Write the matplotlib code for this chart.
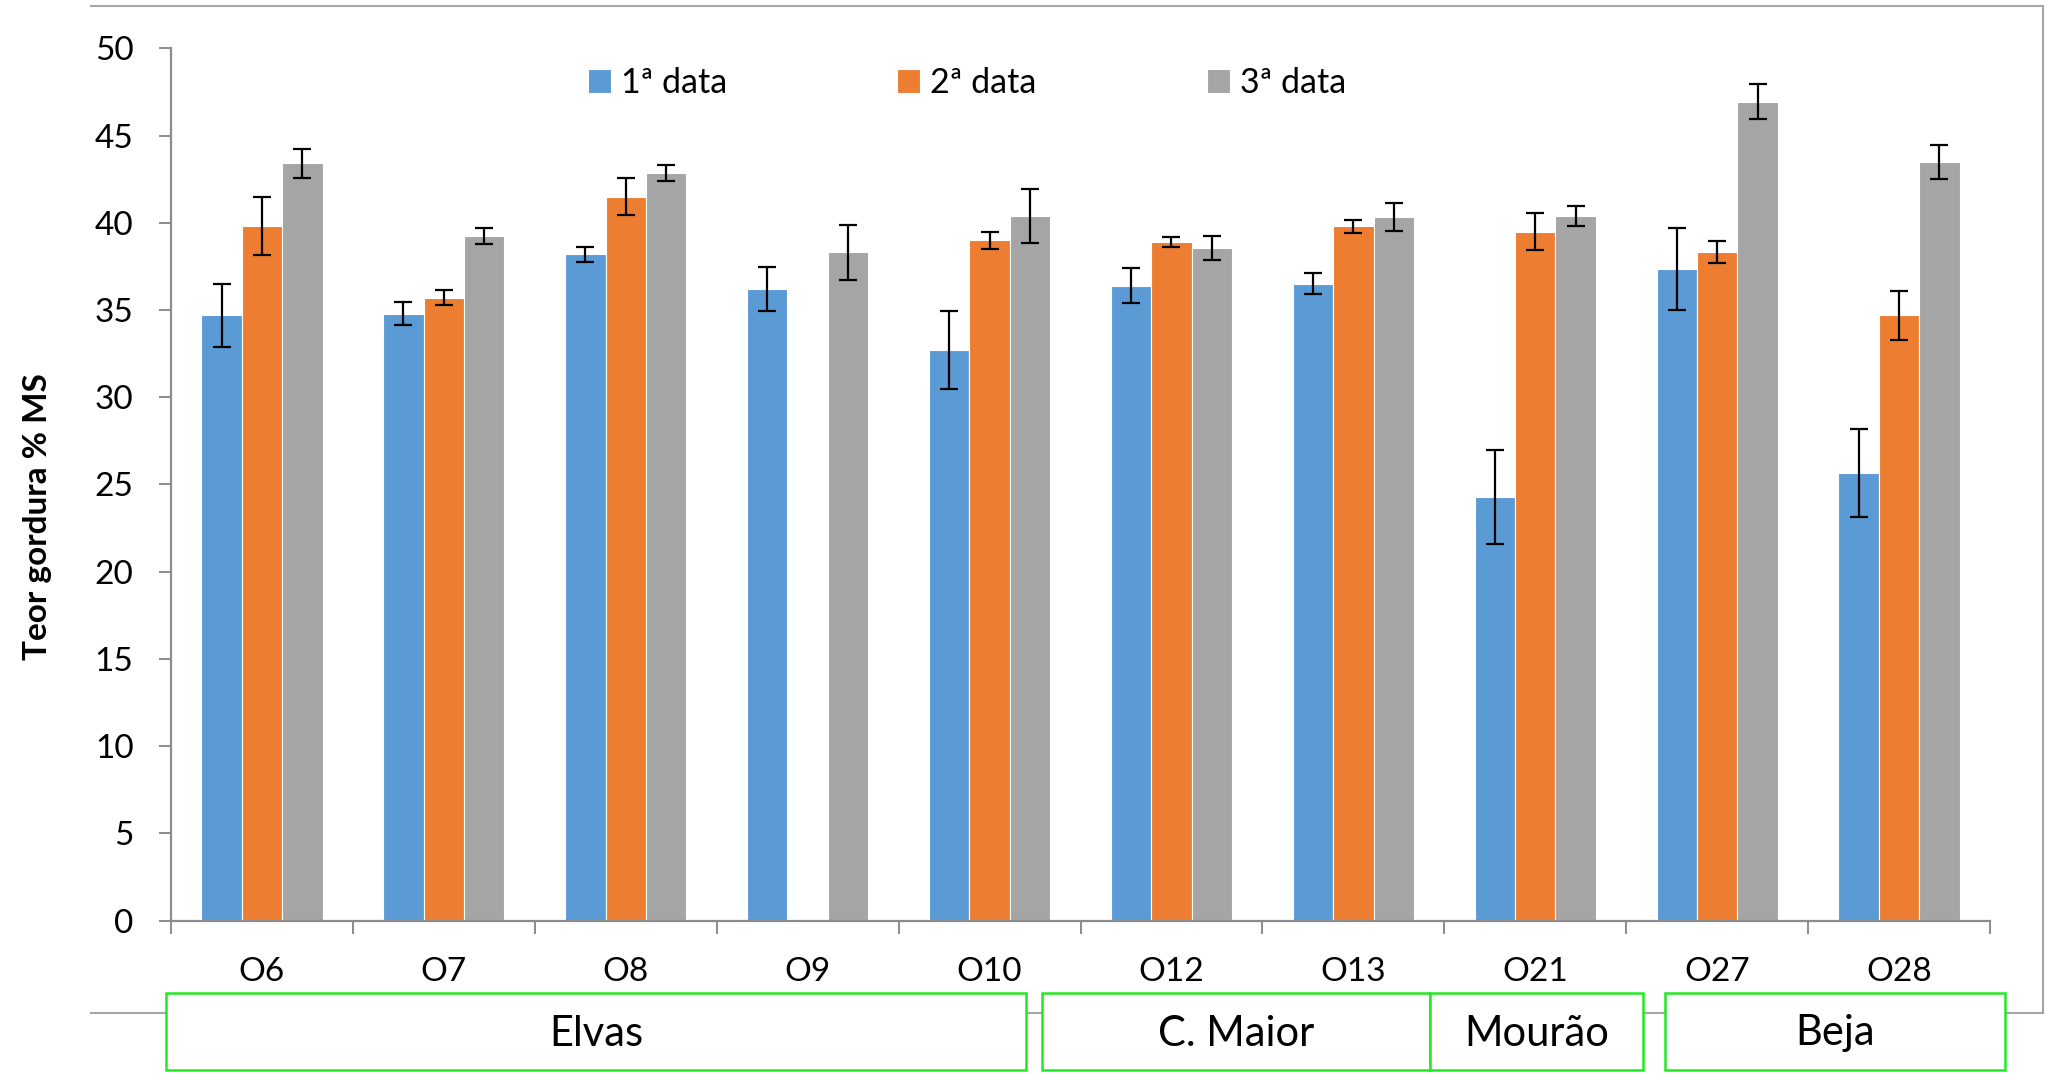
import numpy as np
import matplotlib
matplotlib.use("Agg")
import matplotlib.pyplot as plt
from matplotlib.patches import Rectangle
from matplotlib.lines import Line2D
import matplotlib.transforms as mtransforms

# ---------------- data ----------------
categories = ["O6", "O7", "O8", "O9", "O10", "O12", "O13", "O21", "O27", "O28"]
series_names = ["1ª data", "2ª data", "3ª data"]
data1 = [34.7, 34.8, 38.2, 36.2, 32.7, 36.4, 36.5, 24.3, 37.35, 25.65]
data2 = [39.8, 35.7, 41.5, np.nan, 39.0, 38.9, 39.8, 39.5, 38.3, 34.7]
data3 = [43.4, 39.25, 42.85, 38.3, 40.4, 38.55, 40.35, 40.4, 46.95, 43.5]
err1 = [1.8, 0.68, 0.42, 1.27, 2.25, 1.0, 0.6, 2.69, 2.36, 2.53]
err2 = [1.66, 0.43, 1.05, np.nan, 0.48, 0.3, 0.37, 1.07, 0.63, 1.4]
err3 = [0.84, 0.47, 0.47, 1.6, 1.56, 0.67, 0.8, 0.58, 1.03, 0.97]
sites = ["Elvas", "C. Maior", "Mourão", "Beja"]
y_ticks = [0, 5, 10, 15, 20, 25, 30, 35, 40, 45, 50]
y_label = "Teor gordura % MS"

# ---------------- style ----------------
W, H = 2049, 1081
DPI = 100
plt.rcParams["font.family"] = ["Lato", "DejaVu Sans"]
colors = ["#5B9BD5", "#ED7D31", "#A5A5A5"]
axis_col = "#8C8C8C"
frame_col = "#A6A6A6"
green = "#22E822"

fig = plt.figure(figsize=(W / DPI, H / DPI), dpi=DPI)

def fx(px):
    return px / W

def fy(py):
    return 1 - py / H

ax_left, ax_right = 171, 1990
ax_top, ax_bot = 48.3, 920.7
ax = fig.add_axes([fx(ax_left), fy(ax_bot), (ax_right - ax_left) / W, (ax_bot - ax_top) / H])

x = np.arange(len(categories))
bw = 0.222
series = [(data1, err1), (data2, err2), (data3, err3)]
for i, ((vals, errs), name, c) in enumerate(zip(series, series_names, colors)):
    xi = x + (i - 1) * bw
    ax.bar(xi, vals, width=bw, color=c, edgecolor="white", linewidth=0.8, label=name, zorder=2)
    ax.errorbar(xi, vals, yerr=errs, fmt="none", ecolor="black", elinewidth=1.6,
                capsize=6.3, capthick=1.6, zorder=3)

ax.set_xlim(-0.5, len(categories) - 0.5)
ax.set_ylim(0, 50)
ax.set_yticks(y_ticks)
ax.set_yticklabels([str(t) for t in y_ticks], fontsize=24)
ax.set_xticks(np.arange(len(categories) + 1) - 0.5)
ax.set_xticklabels([])
ax.tick_params(axis="y", direction="out", length=9, width=1.4, color=axis_col, pad=18)
ax.tick_params(axis="x", direction="out", length=9, width=1.4, color=axis_col)
for s in ["top", "right"]:
    ax.spines[s].set_visible(False)
for s in ["left", "bottom"]:
    ax.spines[s].set_color(axis_col)
    ax.spines[s].set_linewidth(1.6)

# category labels
trans = mtransforms.blended_transform_factory(ax.transData, fig.transFigure)
for xi, lab in zip(x, categories):
    ax.text(xi, fy(972), lab, transform=trans, ha="center", va="center", fontsize=24, clip_on=False)

fig.text(fx(38), fy(517), y_label, rotation=90, ha="center", va="center",
         fontsize=24, fontweight="bold")

# legend
fig.legend(loc="center left", bbox_to_anchor=(fx(588), fy(83)), ncol=3, frameon=False,
           fontsize=24.5, handlelength=0.67, handleheight=0.67, handletextpad=0.3,
           columnspacing=5.0, borderaxespad=0, borderpad=0)

# outer chart-area frame (top, right, bottom)
for (x0, y0, x1, y1) in [(91, 6, 2043, 6), (2043, 6, 2043, 1013), (91, 1013, 2043, 1013)]:
    fig.add_artist(Line2D([fx(x0), fx(x1)], [fy(y0), fy(y1)], color=frame_col, lw=1.5))

# site boxes
box_x = [(166, 1026), (1042, 1430), (1430, 1643), (1665, 2005)]
by0, by1 = 993, 1070
for (x0, x1), name in zip(box_x, sites):
    fig.add_artist(Rectangle((fx(x0), fy(by1)), (x1 - x0) / W, (by1 - by0) / H,
                             facecolor="white", edgecolor=green, lw=1.8, zorder=5))
    fig.text(fx((x0 + x1) / 2), fy((by0 + by1) / 2 + 2), name, ha="center", va="center",
             fontsize=30, zorder=6)

fig.savefig("out.png", dpi=DPI)
